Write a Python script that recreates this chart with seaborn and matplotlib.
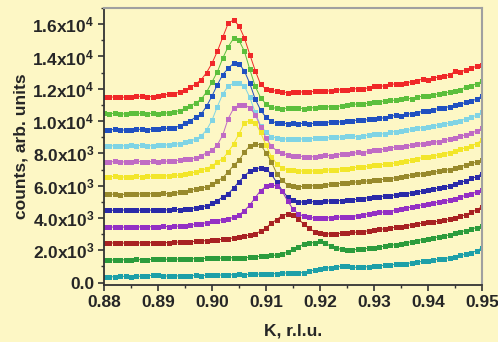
import numpy as np
import pandas as pd
import matplotlib
matplotlib.use("Agg")
import matplotlib.pyplot as plt
import seaborn as sns
from matplotlib.ticker import MultipleLocator, FixedLocator

# K values (r.l.u.), step 0.001 from 0.880 to 0.950
K = [round(0.880 + 0.001 * i, 3) for i in range(71)]

red = [11480, 11470, 11500, 11460, 11490, 11520, 11540, 11530, 11500, 11520,
       11560, 11620, 11650, 11700, 11790, 11900, 12080, 12300, 12560, 13000,
       13580, 14320, 15200, 16050, 16260, 15900, 15140, 14120, 13130, 12270,
       11980, 11900, 11850, 11800, 11760, 11800, 11780, 11820, 11790, 11850,
       11850, 11870, 11860, 11900, 11950, 11920, 11980, 12010, 11990, 12060,
       12150, 12180, 12160, 12270, 12300, 12280, 12380, 12420, 12500, 12600,
       12560, 12680, 12720, 12800, 12850, 13080, 13060, 13150, 13300, 13380,
       13500]
lightgreen = [10470, 10460, 10480, 10430, 10450, 10480, 10470, 10490, 10460, 10480,
              10450, 10470, 10520, 10560, 10640, 10780, 10950, 11120, 11350, 11800,
              12420, 13050, 13900, 14600, 15120, 15000, 14320, 13200, 12150, 11450,
              11050, 10850, 10780, 10760, 10800, 10780, 10800, 10770, 10810, 10830,
              10840, 10860, 10900, 10880, 10950, 10990, 11030, 11060, 11040, 11120,
              11150, 11200, 11240, 11290, 11280, 11350, 11400, 11380, 11470, 11550,
              11560, 11620, 11680, 11720, 11800, 11880, 11950, 12100, 12200, 12300,
              12480]
blue = [9460, 9450, 9480, 9450, 9440, 9470, 9500, 9480, 9460, 9510,
        9500, 9540, 9560, 9600, 9680, 9880, 10020, 10250, 10430, 10920,
        11550, 12250, 12880, 13260, 13580, 13560, 13100, 12330, 11360, 10680,
        10230, 9990, 9880, 9870, 9840, 9860, 9830, 9870, 9810, 9880,
        9910, 9900, 9950, 9970, 9930, 10000, 10020, 10060, 10040, 10100,
        10150, 10200, 10180, 10300, 10350, 10320, 10420, 10460, 10520, 10600,
        10640, 10700, 10780, 10820, 10900, 10990, 11050, 11150, 11250, 11350,
        11560]
cyan = [8470, 8480, 8460, 8450, 8480, 8490, 8470, 8500, 8480, 8470,
        8510, 8530, 8520, 8560, 8600, 8680, 8760, 8880, 9080, 9450,
        10050, 10900, 11680, 12160, 12340, 12380, 12170, 11460, 10540, 9710,
        9310, 9040, 8940, 8900, 8880, 8920, 8880, 8900, 8890, 8930,
        8960, 8940, 8990, 9020, 9000, 9050, 9060, 9040, 9100, 9120,
        9180, 9220, 9200, 9330, 9350, 9380, 9420, 9480, 9550, 9600,
        9640, 9700, 9760, 9800, 9870, 9950, 10030, 10120, 10250, 10350,
        10550]
pink = [7480, 7470, 7500, 7490, 7460, 7480, 7510, 7490, 7480, 7500,
        7490, 7510, 7520, 7540, 7570, 7620, 7660, 7720, 7860, 8030,
        8180, 8530, 9140, 10150, 10780, 10990, 11000, 10820, 10400, 9650,
        8950, 8450, 8150, 8000, 7900, 7860, 7830, 7800, 7780, 7800,
        7850, 7870, 7860, 7920, 7950, 7930, 8000, 8060, 8050, 8120,
        8180, 8200, 8260, 8330, 8390, 8380, 8450, 8500, 8560, 8600,
        8650, 8700, 8720, 8800, 8870, 8950, 9050, 9150, 9250, 9380,
        9550]
yellow = [6560, 6550, 6580, 6530, 6540, 6560, 6580, 6560, 6570, 6590,
          6580, 6600, 6610, 6630, 6650, 6700, 6760, 6850, 6950, 7060,
          7220, 7470, 7670, 8080, 8590, 9200, 9900, 10000, 9900, 9300,
          8500, 7800, 7350, 7100, 6980, 6950, 6920, 6900, 6890, 6920,
          6900, 6950, 6980, 7000, 7050, 7030, 7100, 7150, 7140, 7200,
          7250, 7280, 7330, 7360, 7400, 7450, 7520, 7580, 7650, 7750,
          7800, 7850, 7900, 7980, 8050, 8150, 8250, 8350, 8480, 8600,
          8840]
olive = [5470, 5460, 5480, 5450, 5460, 5480, 5470, 5500, 5490, 5510,
         5490, 5520, 5500, 5540, 5580, 5620, 5730, 5770, 5830, 5930,
         6080, 6280, 6490, 6850, 7260, 7570, 8080, 8450, 8590, 8530,
         8040, 7470, 6750, 6340, 6030, 5950, 5930, 5960, 5980, 6000,
         6000, 6030, 6080, 6100, 6150, 6180, 6200, 6240, 6260, 6300,
         6320, 6360, 6400, 6440, 6480, 6520, 6580, 6650, 6700, 6750,
         6800, 6850, 6880, 6950, 7000, 7100, 7180, 7280, 7380, 7450,
         7600]
darkblue = [4480, 4490, 4470, 4480, 4500, 4480, 4470, 4490, 4500, 4480,
            4500, 4490, 4510, 4530, 4520, 4550, 4580, 4620, 4680, 4750,
            4900, 5080, 5300, 5500, 5850, 6250, 6600, 6900, 7050, 7100,
            7050, 6700, 6200, 5700, 5300, 5100, 5000, 4980, 5020, 5000,
            5010, 5040, 5060, 5080, 5070, 5110, 5130, 5150, 5200, 5260,
            5300, 5320, 5360, 5380, 5420, 5460, 5500, 5560, 5620, 5660,
            5720, 5780, 5850, 5900, 5980, 6100, 6200, 6300, 6450, 6550,
            6750]
purple = [3430, 3420, 3450, 3440, 3430, 3460, 3440, 3450, 3470, 3450,
          3460, 3480, 3470, 3500, 3490, 3530, 3560, 3600, 3650, 3700,
          3790, 3840, 3890, 3950, 4030, 4190, 4450, 4800, 5250, 5700,
          5950, 6030, 6000, 5650, 5050, 4550, 4250, 4100, 4030, 4000,
          3990, 4000, 4020, 4050, 4060, 4080, 4090, 4150, 4200, 4250,
          4300, 4340, 4380, 4400, 4480, 4550, 4600, 4680, 4750, 4810,
          4870, 4920, 4980, 5030, 5100, 5200, 5300, 5400, 5500, 5600,
          5730]
darkred = [2450, 2440, 2460, 2450, 2440, 2470, 2450, 2460, 2480, 2460,
           2470, 2480, 2470, 2490, 2510, 2500, 2530, 2550, 2570, 2600,
           2620, 2650, 2680, 2720, 2760, 2810, 2870, 2950, 3030, 3170,
           3380, 3680, 3900, 4150, 4240, 4200, 3950, 3600, 3350, 3150,
           3060, 3020, 3010, 3030, 3050, 3070, 3100, 3130, 3160, 3200,
           3250, 3290, 3330, 3380, 3420, 3460, 3520, 3580, 3630, 3680,
           3720, 3760, 3800, 3850, 3920, 3990, 4100, 4200, 4350, 4500,
           4700]
green = [1400, 1410, 1390, 1420, 1400, 1410, 1430, 1410, 1420, 1440,
         1430, 1450, 1440, 1460, 1450, 1470, 1480, 1470, 1490, 1500,
         1500, 1520, 1510, 1530, 1540, 1550, 1540, 1570, 1600, 1620,
         1640, 1680, 1700, 1780, 1880, 2050, 2220, 2380, 2450, 2480,
         2560, 2420, 2260, 2120, 2060, 2040, 2030, 2050, 2080, 2120,
         2160, 2200, 2260, 2310, 2350, 2400, 2460, 2530, 2600, 2660,
         2720, 2780, 2820, 2880, 2950, 3050, 3130, 3220, 3320, 3400,
         3480]
teal = [360, 370, 350, 380, 390, 360, 380, 400, 420, 450,
        440, 400, 410, 420, 410, 430, 420, 440, 430, 450,
        460, 450, 480, 470, 490, 500, 480, 520, 510, 530,
        560, 540, 560, 570, 600, 610, 600, 620, 700, 780,
        850, 900, 920, 960, 1000, 1020, 950, 940, 960, 990,
        1010, 1040, 1060, 1100, 1120, 1150, 1180, 1220, 1260, 1320,
        1360, 1400, 1440, 1480, 1540, 1600, 1680, 1760, 1850, 1960,
        2150]

series = [red, lightgreen, blue, cyan, pink, yellow, olive, darkblue,
          purple, darkred, green, teal]
colors = ["#f02828", "#5cbf3c", "#2050c0", "#80d4e4", "#c06cc4", "#f2e62a",
          "#988a2c", "#2a2aa8", "#9430c4", "#a82222", "#2c9c3c", "#1ea0a8"]

ytick_vals = [0, 2000, 4000, 6000, 8000, 10000, 12000, 14000, 16000]
ytick_labels = [r"0.0", r"2.0x10$^{3}$", r"4.0x10$^{3}$", r"6.0x10$^{3}$",
                r"8.0x10$^{3}$", r"1.0x10$^{4}$", r"1.2x10$^{4}$",
                r"1.4x10$^{4}$", r"1.6x10$^{4}$"]
xtick_vals = [0.88, 0.89, 0.90, 0.91, 0.92, 0.93, 0.94, 0.95]
xtick_labels = ["0.88", "0.89", "0.90", "0.91", "0.92", "0.93", "0.94", "0.95"]

sns.set_theme(style="white")
bg = "#fdf7c5"
plt.rcParams["font.family"] = ["Liberation Sans", "DejaVu Sans"]
plt.rcParams["mathtext.fontset"] = "custom"
plt.rcParams["mathtext.rm"] = "Liberation Sans:bold"
plt.rcParams["mathtext.bf"] = "Liberation Sans:bold"
plt.rcParams["mathtext.default"] = "regular"

fig = plt.figure(figsize=(4.98, 3.42), dpi=100, facecolor=bg)
ax = fig.add_axes([0.2088, 0.1667, 0.7591, 0.8099])
ax.set_facecolor(bg)

for vals, c in zip(series, colors):
    sns.lineplot(x=K, y=vals, ax=ax, color=c, marker="s", markersize=3.6,
                 markeredgewidth=0, linewidth=0.7, legend=False)

ax.set_xlim(0.88, 0.95)
ax.set_ylim(-150, 17000)
ax.xaxis.set_major_locator(FixedLocator(xtick_vals))
ax.xaxis.set_minor_locator(MultipleLocator(0.005))
ax.yaxis.set_major_locator(FixedLocator(ytick_vals))
ax.yaxis.set_minor_locator(MultipleLocator(1000))
ax.set_xticklabels(xtick_labels)
ax.set_yticklabels(ytick_labels)

txtc = "#262626"
fs = 12.5
ax.tick_params(axis="both", which="major", direction="out", length=4.5,
               width=1.2, color="#333333", labelsize=fs, labelcolor=txtc, pad=2.5)
ax.tick_params(axis="both", which="minor", direction="out", length=2.5,
               width=1.0, color="#333333")
ax.tick_params(axis="x", which="both", bottom=True)
ax.tick_params(axis="y", which="both", left=True)
for lab in ax.get_xticklabels() + ax.get_yticklabels():
    lab.set_fontweight("bold")

ax.set_xlabel("K, r.l.u.", fontsize=fs, fontweight="bold", color=txtc, labelpad=10)
ax.set_ylabel("counts, arb. units", fontsize=fs, fontweight="bold", color=txtc, labelpad=3)

for side in ["left", "bottom"]:
    ax.spines[side].set_color("#333333")
    ax.spines[side].set_linewidth(1.3)
for side in ["top", "right"]:
    ax.spines[side].set_color("#a0a0a0")
    ax.spines[side].set_linewidth(1.5)
    ax.spines[side].set_visible(True)

fig.savefig("out.png", dpi=100, facecolor=bg)
